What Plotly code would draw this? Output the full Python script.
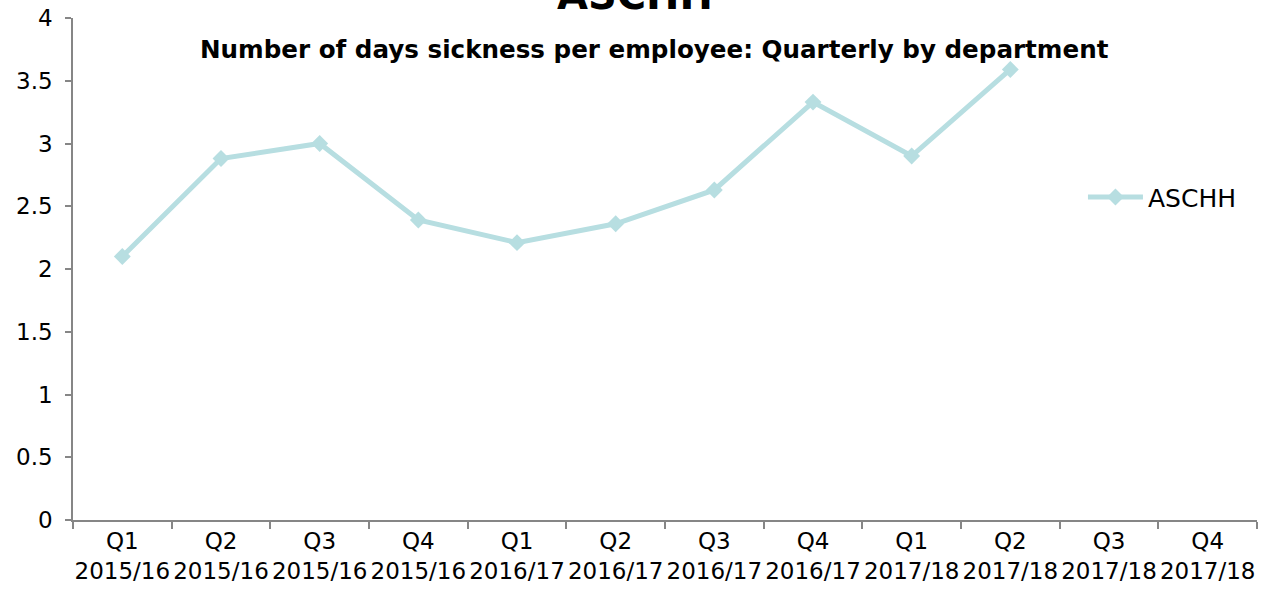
import plotly.graph_objects as go

categories = ["Q1<br>2015/16", "Q2<br>2015/16", "Q3<br>2015/16", "Q4<br>2015/16",
              "Q1<br>2016/17", "Q2<br>2016/17", "Q3<br>2016/17", "Q4<br>2016/17",
              "Q1<br>2017/18", "Q2<br>2017/18", "Q3<br>2017/18", "Q4<br>2017/18"]
aschh = [2.10, 2.88, 3.00, 2.39, 2.21, 2.36, 2.63, 3.33, 2.90, 3.59, None, None]
y_ticks = [0, 0.5, 1, 1.5, 2, 2.5, 3, 3.5, 4]
y_tick_labels = ["0", "0.5", "1", "1.5", "2", "2.5", "3", "3.5", "4"]

line_color = "#B7DEE1"
axis_color = "#868686"
font_family = "DejaVu Sans"

fig = go.Figure()
fig.add_trace(go.Scatter(
    x=categories, y=aschh, name="ASCHH", mode="lines+markers",
    line=dict(color=line_color, width=5),
    marker=dict(symbol="diamond", size=13, color=line_color),
    connectgaps=False,
))

fig.update_layout(
    width=1264, height=598,
    margin=dict(l=73, r=7, t=18, b=78),
    paper_bgcolor="white", plot_bgcolor="white",
    font=dict(family=font_family, size=23, color="black"),
    showlegend=True,
    legend=dict(x=0.853, y=0.643, xanchor="left", yanchor="middle", itemwidth=55,
                font=dict(size=25, color="black"), bgcolor="rgba(0,0,0,0)"),
    xaxis=dict(type="category", categoryorder="array", categoryarray=categories,
               range=[-0.5, 11.5], showline=True, linecolor=axis_color, linewidth=1.5,
               ticks="outside", tickson="boundaries", ticklen=7, tickcolor=axis_color,
               tickwidth=1.5, showgrid=False, zeroline=False, tickangle=0,
               automargin=False,
               tickfont=dict(size=23, color="black")),
    yaxis=dict(range=[0, 4], tickvals=y_ticks, ticktext=y_tick_labels,
               showline=True, linecolor=axis_color, linewidth=1.5,
               ticks="outside", ticklen=6, tickcolor=axis_color, tickwidth=1.5,
               showgrid=False, zeroline=False, automargin=False, ticklabelstandoff=8,
               tickfont=dict(size=23, color="black")),
    annotations=[
        dict(text="<b>ASCHH</b>", xref="paper", yref="paper", x=0.475, y=0.996,
             xanchor="center", yanchor="bottom", showarrow=False,
             font=dict(family=font_family, size=40, color="black")),
        dict(text="<b>Number of days sickness per employee: Quarterly by department</b>",
             xref="paper", yref="paper", x=0.4915, y=0.937,
             xanchor="center", yanchor="middle", showarrow=False,
             font=dict(family=font_family, size=24.6, color="black")),
    ],
)

fig.write_html("out.html")
